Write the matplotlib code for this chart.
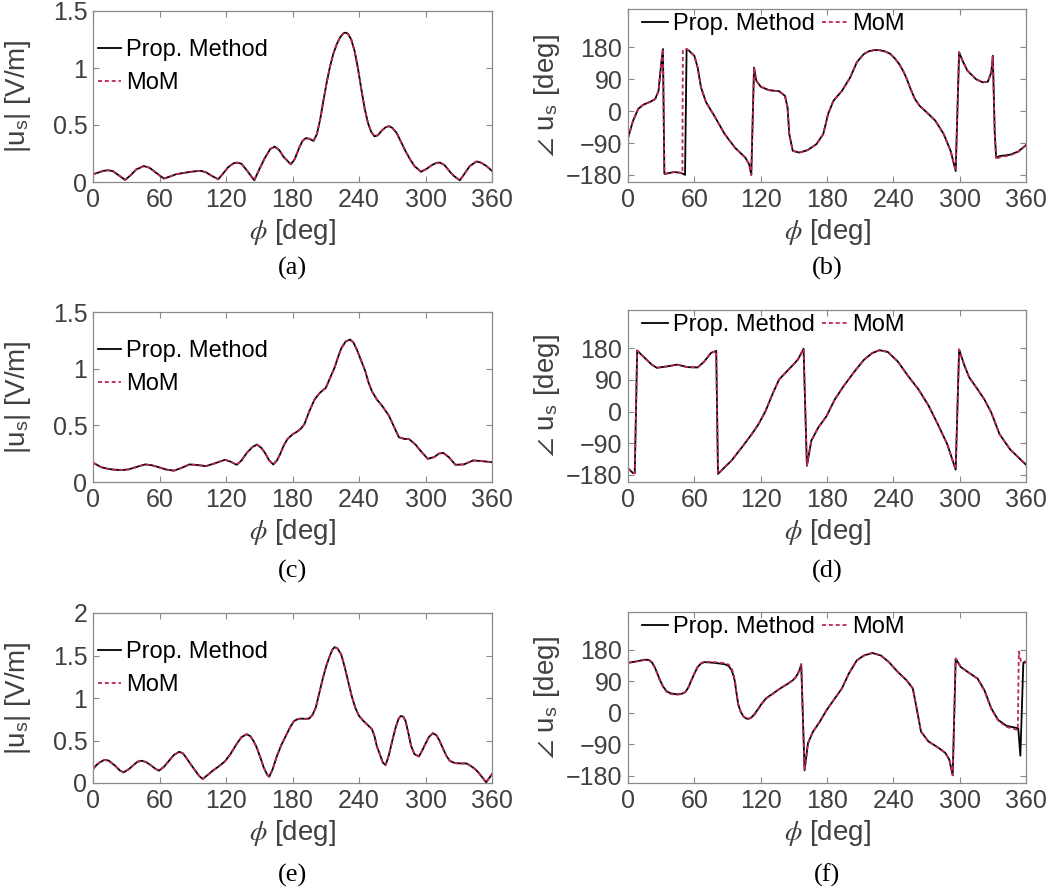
import matplotlib
matplotlib.use("Agg")
import matplotlib.pyplot as plt

# ---- data ----
# (a) magnitude
phi_a = [0, 4, 9, 13.7, 18, 23, 29, 34, 39, 45.8, 51, 57, 64, 70, 75, 81, 87, 93, 97.6,
         102, 107, 113, 117, 122, 127, 130, 134, 139, 145.5, 150, 155, 160, 164, 168, 172,
         178.5, 182, 186, 189, 192, 195, 199, 202, 205, 208, 211, 214, 217, 220, 223, 226,
         228, 230, 233, 236, 239, 242, 245, 248, 251, 254, 257, 261, 264, 267, 270, 274,
         278, 282, 286, 290, 296, 301, 306, 310, 313, 317, 322, 326, 331, 335, 340, 346,
         350, 355, 360]
mag_a = [0.068, 0.08, 0.097, 0.103, 0.095, 0.06, 0.018, 0.06, 0.11, 0.14, 0.125, 0.08,
         0.03, 0.05, 0.068, 0.078, 0.088, 0.095, 0.097, 0.085, 0.055, 0.024, 0.07, 0.13,
         0.165, 0.17, 0.16, 0.10, 0.015, 0.11, 0.21, 0.29, 0.31, 0.28, 0.22, 0.155, 0.20,
         0.30, 0.36, 0.385, 0.38, 0.36, 0.42, 0.55, 0.72, 0.88, 1.02, 1.13, 1.21, 1.27,
         1.305, 1.31, 1.30, 1.25, 1.15, 1.0, 0.82, 0.65, 0.52, 0.44, 0.40, 0.41, 0.455,
         0.48, 0.49, 0.475, 0.43, 0.35, 0.27, 0.20, 0.14, 0.09, 0.115, 0.15, 0.168, 0.17,
         0.15, 0.09, 0.05, 0.015, 0.07, 0.14, 0.18, 0.17, 0.14, 0.097]

# (b) phase
phi_b = [0, 4.6, 9.2, 13.8, 20, 24.6, 27.6, 30, 31.6, 32.9, 35.3, 41.5, 47.6, 50.5,
         51.6, 53, 55.3, 60, 63, 66, 70.6, 78, 87.5, 96.7, 106, 109.6, 111.5, 114, 116,
         120, 127.5, 136.7, 142, 144.3, 145.9, 149, 155, 162.6, 170.5, 176.6, 181, 185.8,
         193.5, 201, 207, 213.3, 218, 222.7, 227, 232, 237, 241, 245, 248.8, 252, 255,
         259.5, 264, 268.7, 278, 285.6, 291.8, 296.4, 299.5, 302.6, 307, 314.8, 321, 325.5,
         328.6, 330, 331.7, 333, 336, 345.5, 353, 360]
ph_b = [-76, -27, 6, 18, 26, 34, 57, 133, 175, -177, -176, -172, -174, -178, -180, 175,
        170, 156, 123, 67, 25, -13, -65, -103, -131, -150, -180, 123, 86, 69, 59, 56,
        43, 10, -65, -112, -117, -110, -93, -65, -8, 29, 57, 95, 138, 161, 169, 172, 172,
        169, 162, 150, 134, 114, 92, 67, 34, 14, 1, -27, -65, -112, -169, 166, 142, 114,
        90, 81, 83, 109, 156, -60, -131, -127, -123, -114, -96]
phi_b_mom = [0, 4.6, 9.2, 13.8, 20, 24.6, 27.6, 30, 31.6, 32.9, 35.3, 41.5, 47.6, 49.2,
             49.6, 53, 55.3, 60, 63, 66, 70.6, 78, 87.5, 96.7, 106, 109.6, 111.5, 114, 116,
             120, 127.5, 136.7, 142, 144.3, 145.9, 149, 155, 162.6, 170.5, 176.6, 181,
             185.8, 193.5, 201, 207, 213.3, 218, 222.7, 227, 232, 237, 241, 245, 248.8,
             252, 255, 259.5, 264, 268.7, 278, 285.6, 291.8, 296.4, 299.5, 302.6, 307,
             314.8, 321, 325.5, 328.6, 330, 331.7, 333, 336, 345.5, 353, 360]
ph_b_mom = [-76, -27, 6, 18, 26, 34, 57, 133, 175, -177, -176, -172, -174, -175, 172, 175,
            170, 156, 123, 67, 25, -13, -65, -103, -131, -150, -180, 123, 86, 69, 59, 56,
            43, 10, -65, -112, -117, -110, -93, -65, -8, 29, 57, 95, 138, 161, 169, 172,
            172, 169, 162, 150, 134, 114, 92, 67, 34, 14, 1, -27, -65, -112, -169, 166,
            142, 114, 90, 81, 83, 109, 156, -60, -137, -130, -125, -115, -96]

# (c) magnitude
phi_c = [0, 7.6, 14, 20, 26, 32, 40, 47, 53, 59.5, 66, 73, 80, 87, 94, 102, 110, 119,
         124, 129.7, 134, 139, 144, 148, 152, 155.6, 159, 162.6, 166, 169, 172, 175.5, 180,
         184.6, 187.5, 190.7, 195, 200, 205, 210, 214, 218, 221, 224, 228, 232, 235, 238,
         242, 245.6, 248.5, 251.7, 256, 261, 267, 271, 276, 281, 285, 291, 296, 302, 308,
         312, 316, 321, 327, 334.6, 343, 350, 360]
mag_c = [0.17, 0.13, 0.115, 0.108, 0.105, 0.111, 0.135, 0.155, 0.148, 0.13, 0.11, 0.10,
         0.125, 0.155, 0.15, 0.14, 0.165, 0.196, 0.18, 0.152, 0.19, 0.26, 0.31, 0.33, 0.30,
         0.25, 0.19, 0.155, 0.19, 0.25, 0.32, 0.38, 0.42, 0.447, 0.47, 0.51, 0.62, 0.73,
         0.79, 0.83, 0.92, 1.01, 1.10, 1.18, 1.24, 1.257, 1.23, 1.17, 1.07, 0.98, 0.88,
         0.80, 0.73, 0.67, 0.585, 0.50, 0.395, 0.38, 0.38, 0.33, 0.27, 0.205, 0.22, 0.25,
         0.257, 0.22, 0.152, 0.155, 0.19, 0.185, 0.175]

# (d) phase
phi_d = [0, 4.6, 6.1, 8.3, 13.8, 21.5, 26, 35.3, 44.5, 53.7, 63, 69, 75, 79.8, 81.4,
         87.5, 93.7, 102.9, 112, 118, 124.4, 130.5, 136.7, 145.9, 153.6, 158.8, 161.8,
         165.8, 172, 179.6, 187, 195, 204, 213.5, 221, 227.5, 235, 244, 253.5, 262.7, 272,
         281, 288.8, 296.4, 299.5, 304, 308.6, 316.2, 322.4, 328.6, 336, 345.5, 353, 360]
ph_d = [-161, -175, -175, 173, 156, 133, 124, 128, 133, 126, 125, 142, 166, 172, -177,
        -158, -139, -102, -64, -36, 1, 48, 91, 121, 147, 178, -154, -83, -46, -13, 34, 72,
        110, 147, 166, 174, 169, 142, 100, 63, 16, -41, -93, -165, 176, 133, 97, 63, 34,
        -3, -64, -107, -130, -151]

# (e) magnitude
phi_e = [0, 3, 6, 10, 14, 20, 24, 27.5, 32, 36.6, 40, 44, 48, 52, 56, 59.5, 64, 68.6, 73,
         77.8, 81, 84, 87, 92, 96, 99, 103, 108, 114, 119, 124, 129.5, 134, 138.7, 142, 145,
         147.7, 151, 154, 157, 159, 162, 166, 170, 174, 178, 181.5, 184.5, 187.6, 191, 195,
         198, 201, 204, 207.5, 210.5, 213.5, 216, 218, 220.5, 224, 227, 230.5, 233.5,
         236.6, 240, 244, 248, 251.7, 254, 256, 259, 261.5, 264, 267, 270, 273, 275.5,
         277.6, 280, 282, 285, 287, 290, 294, 297, 299, 303, 306.7, 310, 312.7, 316, 318.8,
         322, 326.5, 332, 337, 341, 344.7, 348, 351, 354.8, 357, 360]
mag_e = [0.164, 0.21, 0.242, 0.27, 0.265, 0.203, 0.15, 0.125, 0.16, 0.211, 0.25, 0.262,
         0.245, 0.211, 0.17, 0.145, 0.19, 0.262, 0.33, 0.367, 0.35, 0.30, 0.242, 0.15,
         0.08, 0.047, 0.09, 0.145, 0.20, 0.254, 0.34, 0.457, 0.54, 0.574, 0.55, 0.49,
         0.418, 0.30, 0.184, 0.10, 0.074, 0.16, 0.32, 0.45, 0.555, 0.66, 0.73, 0.75, 0.758,
         0.755, 0.758, 0.80, 0.887, 1.05, 1.238, 1.38, 1.49, 1.57, 1.598, 1.585, 1.51,
         1.37, 1.18, 1.02, 0.887, 0.79, 0.73, 0.68, 0.633, 0.55, 0.437, 0.33, 0.24, 0.211,
         0.33, 0.496, 0.65, 0.75, 0.789, 0.78, 0.73, 0.56, 0.437, 0.34, 0.3125, 0.38,
         0.437, 0.54, 0.586, 0.56, 0.496, 0.40, 0.32, 0.26, 0.234, 0.23, 0.23, 0.20, 0.164,
         0.12, 0.07, 0.008, 0.05, 0.105]

# (f) phase
phi_f = [0, 7.7, 15.4, 19, 21.5, 24, 26, 29, 32, 35, 38.4, 44.5, 49, 52, 54.5, 56.8, 60,
         63, 66, 69, 78, 87.5, 91, 93.7, 95.5, 96.7, 98.2, 99.8, 102, 104.4, 107, 109, 112,
         115, 118, 121, 125, 130.5, 135, 139.7, 144, 149, 151.5, 153.6, 155.5, 156.7, 159.7,
         162.8, 167.4, 173.5, 179.6, 187, 193.5, 199.7, 207, 213.5, 221, 228.7, 236, 244,
         252, 257.6, 260.8, 265, 271.6, 281, 287, 290.6, 293.7, 296.4, 301, 308.6, 316.2,
         322.4, 328.6, 334.8, 342.5, 351.7, 353, 354.9, 357.6, 360]
ph_f = [143, 147, 152, 151, 145, 132, 117, 93, 74, 62, 56, 53, 55, 60, 72, 89, 112, 131,
        141, 145, 143, 139, 134, 122, 105, 89, 55, 23, 3, -10, -16, -17, -12, -1, 13, 27,
        42, 54, 64, 74, 82, 93, 101, 112, 125, 139, -164, -86, -53, -25, 8, 41, 70, 112,
        150, 164, 171, 164, 145, 117, 93, 70, 18, -53, -81, -100, -114, -133, -178, 155,
        131, 114, 98, 65, 13, -20, -37, -43, -45, -122, 144, 144]
phi_f_mom = [0, 7.7, 15.4, 19, 21.5, 24, 26, 29, 32, 35, 38.4, 44.5, 49, 52, 54.5, 56.8,
             60, 63, 66, 69, 78, 87.5, 91, 93.7, 95.5, 96.7, 98.2, 99.8, 102, 104.4, 107,
             109, 112, 115, 118, 121, 125, 130.5, 135, 139.7, 144, 149, 151.5, 153.6, 155.5,
             156.7, 159.7, 162.8, 167.4, 173.5, 179.6, 187, 193.5, 199.7, 207, 213.5, 221,
             228.7, 236, 244, 252, 257.6, 260.8, 265, 271.6, 281, 287, 290.6, 293.7, 296.4,
             301, 308.6, 316.2, 322.4, 328.6, 334.8, 342.5, 351.7, 352.6, 353.5, 355.5, 360]
ph_f_mom = [143, 147, 151, 150, 144, 130, 115, 91, 72, 60, 54, 52, 54, 60, 72, 90, 113,
            132, 142, 146, 145, 142, 138, 128, 110, 92, 56, 23, 3, -10, -16, -17, -13, -3,
            11, 25, 41, 53, 64, 74, 82, 93, 101, 112, 125, 139, -164, -86, -53, -25, 8, 41,
            70, 112, 150, 164, 171, 164, 145, 117, 93, 70, 18, -53, -81, -100, -114, -133,
            -178, 155, 131, 114, 98, 63, 12, -22, -40, -48, -48, 175, 147, 147]

panels = [
    ("a", phi_a, mag_a, phi_a, mag_a, "mag", [0, 1.5], [0, 0.5, 1, 1.5], ["0", "0.5", "1", "1.5"]),
    ("b", phi_b, ph_b, phi_b_mom, ph_b_mom, "phase", None, None, None),
    ("c", phi_c, mag_c, phi_c, mag_c, "mag", [0, 1.5], [0, 0.5, 1, 1.5], ["0", "0.5", "1", "1.5"]),
    ("d", phi_d, ph_d, phi_d, ph_d, "phase", None, None, None),
    ("e", phi_e, mag_e, phi_e, mag_e, "mag", [0, 2], [0, 0.5, 1, 1.5, 2], ["0", "0.5", "1", "1.5", "2"]),
    ("f", phi_f, ph_f, phi_f_mom, ph_f_mom, "phase", None, None, None),
]

plt.rcParams["font.family"] = ["Liberation Sans", "DejaVu Sans"]
plt.rcParams["mathtext.fontset"] = "stix"

W, H = 1054, 894
fig = plt.figure(figsize=(W / 100, H / 100), dpi=100)

# axes boxes in pixels: left, top, right, bottom
boxes = {
    "a": (93, 11, 492, 182), "b": (628, 9, 1026, 182),
    "c": (93, 312, 492, 482), "d": (628, 310, 1026, 482),
    "e": (93, 613, 492, 783), "f": (628, 612, 1026, 783),
}
caption_y = {"a": 268, "b": 268, "c": 571, "d": 571, "e": 875, "f": 875}

text_col = "#404040"
spine_col = "#8a8a8a"
mom_col = "#c0284e"

for key, x1, y1, x2, y2, kind, ylim, yticks, ylabels in panels:
    l, t, r, b = boxes[key]
    ax = fig.add_axes([l / W, 1 - b / H, (r - l) / W, (b - t) / H])
    ax.plot(x1, y1, color="black", lw=1.3, label="Prop. Method")
    ax.plot(x2, y2, color=mom_col, lw=1.3, ls=(0, (2.2, 1.6)), label="MoM")
    ax.set_xlim(0, 360)
    ax.set_xticks(range(0, 361, 60))
    if kind == "mag":
        ax.set_ylim(*ylim)
        ax.set_yticks(yticks)
        ax.set_yticklabels(ylabels)
        ax.set_ylabel(r"|u$_\mathregular{s}$| [V/m]", fontsize=20, color=text_col)
        ax.yaxis.set_label_coords(-0.15, 0.5)
        ax.legend(loc="upper left", bbox_to_anchor=(0.012, 0.836), frameon=False,
                  fontsize=17, handlelength=1.0, handletextpad=0.2, labelspacing=0.47,
                  borderpad=0, borderaxespad=0)
    else:
        ax.set_ylim(-200, 288)
        ax.set_yticks([-180, -90, 0, 90, 180])
        ax.set_ylabel(r"$\angle$ u$_\mathregular{s}$ [deg]", fontsize=20, color=text_col)
        ax.yaxis.set_label_coords(-0.165, 0.5)
        ax.legend(loc="upper left", bbox_to_anchor=(0.035, 0.975), frameon=False,
                  fontsize=17, ncol=2, handlelength=1.1, handletextpad=0.2,
                  columnspacing=0.3, borderpad=0, borderaxespad=0)
    ax.set_xlabel(r"$\phi$ [deg]", fontsize=20, color=text_col)
    ax.xaxis.set_label_coords(0.5, -0.205)
    ax.tick_params(direction="in", top=True, right=True, length=4, width=0.8,
                   color=spine_col, labelcolor=text_col, labelsize=18, pad=4)
    for s in ax.spines.values():
        s.set_color(spine_col)
        s.set_linewidth(0.9)
    fig.text((l + r) / 2 / W, 1 - caption_y[key] / H, "(%s)" % key,
             family="Liberation Serif", fontsize=19, ha="center", va="center")

fig.savefig("out.png", dpi=100)
